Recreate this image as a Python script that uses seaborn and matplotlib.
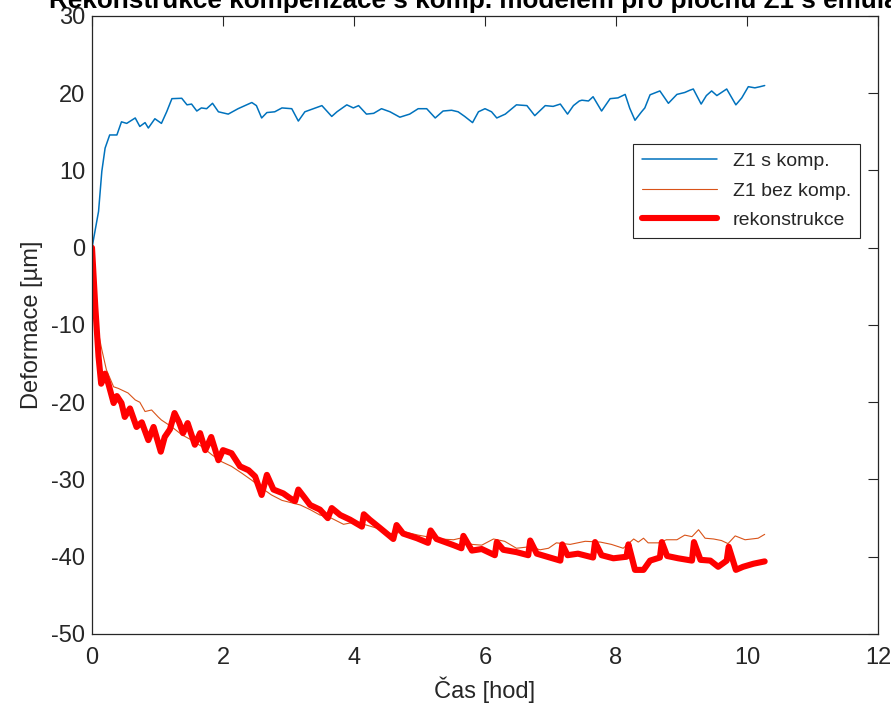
import matplotlib
matplotlib.use("Agg")
import matplotlib.pyplot as plt
import pandas as pd
import seaborn as sns

# Z1 s komp. (compensated deformation)
t_komp = [0.0, 0.1, 0.15, 0.2, 0.27, 0.38, 0.45, 0.53, 0.66, 0.73, 0.81, 0.86, 0.96,
          1.06, 1.14, 1.22, 1.37, 1.45, 1.52, 1.6, 1.67, 1.75, 1.84, 1.93, 2.08, 2.23,
          2.44, 2.51, 2.59, 2.67, 2.79, 2.9, 3.05, 3.15, 3.25, 3.51, 3.66, 3.74, 3.89,
          3.99, 4.07, 4.19, 4.3, 4.42, 4.55, 4.7, 4.85, 4.98, 5.11, 5.24, 5.36, 5.49,
          5.59, 5.69, 5.81, 5.9, 6.0, 6.1, 6.18, 6.31, 6.48, 6.64, 6.76, 6.92, 7.04,
          7.15, 7.26, 7.35, 7.44, 7.48, 7.58, 7.65, 7.78, 7.91, 8.03, 8.14, 8.21, 8.29,
          8.39, 8.44, 8.52, 8.67, 8.8, 8.93, 9.05, 9.13, 9.18, 9.3, 9.38, 9.46, 9.54,
          9.69, 9.83, 9.92, 10.02, 10.12, 10.2, 10.27]
z1_komp = [0.0, 4.7, 9.9, 12.9, 14.6, 14.6, 16.3, 16.1, 16.8, 15.7, 16.2, 15.5, 16.7,
           16.1, 17.6, 19.3, 19.35, 18.5, 18.6, 17.7, 18.1, 18.0, 18.7, 17.6, 17.3, 18.0,
           18.8, 18.4, 16.8, 17.5, 17.6, 18.1, 18.0, 16.4, 17.6, 18.4, 17.0, 17.6, 18.5,
           18.1, 18.4, 17.3, 17.4, 18.0, 17.6, 16.9, 17.3, 18.0, 18.0, 16.8, 17.7, 17.8,
           17.6, 17.0, 16.2, 17.6, 18.0, 17.6, 16.8, 17.3, 18.5, 18.4, 17.1, 18.4, 18.3,
           18.6, 17.3, 18.4, 19.0, 19.1, 19.0, 19.55, 17.7, 19.3, 19.4, 19.85, 18.05, 16.5,
           17.6, 18.1, 19.8, 20.3, 18.7, 19.85, 20.1, 20.4, 20.55, 18.6, 19.7, 20.3, 19.7,
           20.55, 18.5, 19.4, 20.85, 20.7, 20.85, 21.0]

# Z1 bez komp. (uncompensated deformation)
t_bez = [0.0, 0.07, 0.15, 0.22, 0.33, 0.4, 0.55, 0.66, 0.73, 0.81, 0.91, 1.01, 1.06,
         1.22, 1.37, 1.52, 1.67, 1.83, 1.98, 2.13, 2.29, 2.44, 2.59, 2.74, 2.9, 3.18,
         3.33, 3.48, 3.63, 3.84, 4.02, 4.19, 4.35, 4.55, 4.78, 4.98, 5.11, 5.31, 5.52,
         5.62, 5.8, 5.95, 6.13, 6.3, 6.48, 6.69, 6.84, 6.97, 7.09, 7.3, 7.53, 7.76,
         7.93, 8.11, 8.27, 8.34, 8.42, 8.49, 8.65, 8.77, 8.93, 9.05, 9.16, 9.26, 9.36,
         9.49, 9.61, 9.71, 9.82, 9.97, 10.17, 10.27]
z1_bez = [0.0, -9.8, -13.2, -15.8, -18.0, -18.2, -18.8, -19.7, -20.0, -21.2, -21.0, -21.9,
          -22.3, -23.2, -24.2, -24.9, -25.7, -26.8, -27.7, -28.3, -29.2, -30.1, -31.1,
          -32.0, -32.7, -33.3, -33.9, -34.6, -34.9, -35.8, -35.5, -35.9, -36.3, -37.0,
          -36.8, -37.2, -37.4, -37.7, -37.8, -37.6, -38.4, -38.5, -37.7, -38.0, -38.9,
          -38.7, -39.1, -38.9, -38.2, -38.4, -38.0, -38.1, -38.4, -38.9, -37.7, -38.1,
          -37.6, -38.2, -38.2, -37.8, -37.8, -37.2, -37.4, -36.5, -37.6, -37.7, -37.9,
          -38.3, -37.3, -37.8, -37.6, -37.1]

# rekonstrukce (model reconstruction)
t_rek = [0.0, 0.05, 0.1, 0.14, 0.2, 0.25, 0.33, 0.38, 0.45, 0.5, 0.58, 0.68, 0.76, 0.86,
         0.94, 1.05, 1.11, 1.19, 1.26, 1.33, 1.39, 1.46, 1.57, 1.65, 1.73, 1.82, 1.93,
         2.0, 2.13, 2.26, 2.39, 2.49, 2.59, 2.67, 2.77, 2.92, 3.02, 3.1, 3.15, 3.25,
         3.33, 3.48, 3.6, 3.66, 3.79, 3.94, 4.12, 4.15, 4.24, 4.4, 4.6, 4.65, 4.75,
         4.96, 5.13, 5.17, 5.26, 5.52, 5.64, 5.67, 5.8, 5.95, 6.15, 6.18, 6.28, 6.48,
         6.66, 6.69, 6.79, 6.99, 7.15, 7.18, 7.26, 7.42, 7.65, 7.68, 7.78, 7.96, 8.16,
         8.19, 8.29, 8.42, 8.52, 8.67, 8.7, 8.78, 8.95, 9.16, 9.19, 9.29, 9.44, 9.56,
         9.69, 9.72, 9.83, 9.94, 10.1, 10.27]
rek = [0.0, -7.6, -14.1, -17.6, -16.3, -17.6, -20.1, -19.2, -20.1, -21.9, -20.8, -23.2,
       -22.6, -24.9, -23.2, -26.4, -24.5, -23.5, -21.4, -22.6, -24.0, -22.7, -25.5, -24.0,
       -26.2, -24.5, -27.5, -26.2, -26.6, -28.3, -28.8, -29.6, -32.0, -29.4, -31.3, -31.8,
       -32.4, -32.8, -31.3, -32.4, -33.3, -33.9, -35.0, -33.7, -34.6, -35.2, -36.1, -34.5,
       -35.2, -36.3, -37.7, -35.9, -37.0, -37.6, -38.2, -36.6, -37.7, -38.5, -38.9, -37.3,
       -39.2, -39.0, -39.8, -38.1, -39.1, -39.4, -39.8, -37.9, -39.6, -40.1, -40.5, -38.4,
       -39.8, -39.6, -40.1, -38.1, -39.8, -40.2, -40.0, -38.4, -41.7, -41.7, -40.5, -40.1,
       -38.1, -39.9, -40.2, -40.5, -38.1, -40.4, -40.5, -41.3, -40.5, -38.7, -41.7, -41.3,
       -40.9, -40.6]

x_ticks = [0, 2, 4, 6, 8, 10, 12]
y_ticks = [-50, -40, -30, -20, -10, 0, 10, 20, 30]

sns.set_theme(style="white")
plt.rcParams["font.family"] = ["Liberation Sans", "DejaVu Sans"]
plt.rcParams["axes.unicode_minus"] = False

ink = "#262626"
fig = plt.figure(figsize=(8.91, 7.11), dpi=100)
ax = fig.add_axes([92 / 891, 1 - 634 / 711, 786 / 891, 618 / 711])

df_komp = pd.DataFrame({"t": t_komp, "v": z1_komp})
df_bez = pd.DataFrame({"t": t_bez, "v": z1_bez})
df_rek = pd.DataFrame({"t": t_rek, "v": rek})

sns.lineplot(data=df_komp, x="t", y="v", ax=ax, color="#0072BD", linewidth=1.1,
             sort=False, estimator=None, label="Z1 s komp.")
sns.lineplot(data=df_bez, x="t", y="v", ax=ax, color="#D95319", linewidth=0.8,
             sort=False, estimator=None, label="Z1 bez komp.")
sns.lineplot(data=df_rek, x="t", y="v", ax=ax, color="#FF0000", linewidth=4.4,
             sort=False, estimator=None, label="rekonstrukce")

ax.set_xlim(0, 12)
ax.set_ylim(-50, 30)
ax.set_xticks(x_ticks)
ax.set_yticks(y_ticks)
ax.tick_params(direction="in", length=7, width=0.8, colors=ink, labelsize=17,
               top=True, right=True, labeltop=False, labelright=False)
ax.tick_params(axis="x", pad=9)
ax.tick_params(axis="y", pad=5)
for s in ax.spines.values():
    s.set_color(ink)
    s.set_linewidth(0.9)

ax.set_xlabel("Čas [hod]", fontsize=17, color=ink, labelpad=6)
ax.set_ylabel("Deformace [µm]", fontsize=17, color=ink, labelpad=6)
ax.set_title("Rekonstrukce kompenzace s komp. modelem pro plochu Z1 s emulací",
             fontsize=18.8, fontweight="bold", color="black", pad=6)

leg = ax.legend(loc="upper right", bbox_to_anchor=(0.977, 0.793), borderaxespad=0,
                fontsize=14, frameon=True, fancybox=False, framealpha=1, edgecolor=ink,
                handlelength=3.9, labelspacing=0.6, borderpad=0.45)
leg.get_frame().set_linewidth(0.8)

fig.savefig("out.png", dpi=100)
